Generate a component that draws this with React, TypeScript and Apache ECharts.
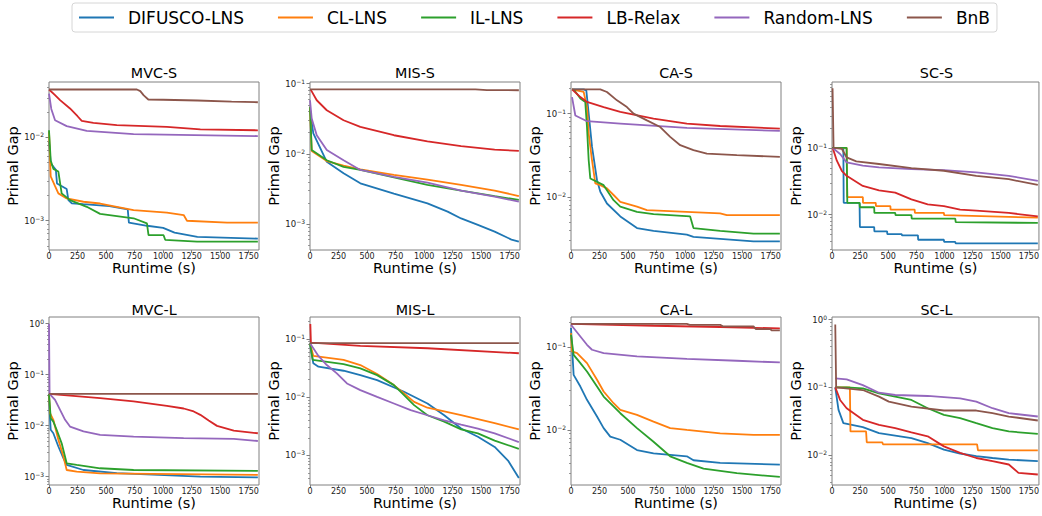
import React, { useEffect, useRef } from 'react';
import * as echarts from 'echarts';

type Pt = [number, number];

const METHODS = ['DIFUSCO-LNS', 'CL-LNS', 'IL-LNS', 'LB-Relax', 'Random-LNS', 'BnB'];
const COLORS = ['#1f77b4', '#ff7f0e', '#2ca02c', '#d62728', '#9467bd', '#8c564b'];
const TITLES = ['MVC-S', 'MIS-S', 'CA-S', 'SC-S', 'MVC-L', 'MIS-L', 'CA-L', 'SC-L'];
const X_TICKS = [0, 250, 500, 750, 1000, 1250, 1500, 1750];
const X_MAX = 1840;
const DECADES = [1e-4, 1e-3, 1e-2, 1e-1, 1];
const Y_RANGES: [number, number][] = [
  [4.45e-4, 0.0464], [4.26e-4, 0.1056], [0.00229, 0.24], [0.00295, 0.97],
  [6.86e-4, 1.35], [3.12e-4, 0.237], [0.00216, 0.231], [0.00364, 1.09],
];

// order in each panel: DIFUSCO-LNS, CL-LNS, IL-LNS, LB-Relax, Random-LNS, BnB
const MVC_S: Pt[][] = [
  [[0,0.0089],[15,0.0049],[60,0.0041],[70,0.0028],[155,0.0024],[170,0.00177],[200,0.00162],[300,0.00158],[530,0.0015],[690,0.00137],[700,0.00095],[860,0.00087],[1000,0.00082],[1100,0.00072],[1300,0.00064],[1830,0.00061]],
  [[0,0.0117],[15,0.0034],[53,0.0026],[82,0.00213],[155,0.00185],[302,0.00169],[448,0.00161],[594,0.00147],[741,0.00134],[1033,0.00125],[1180,0.00117],[1209,0.0010],[1560,0.00095],[1830,0.00095]],
  [[0,0.0122],[15,0.0053],[38,0.0042],[82,0.0039],[111,0.00213],[184,0.00177],[331,0.00147],[448,0.00121],[741,0.00107],[858,0.00093],[872,0.00067],[1004,0.00067],[1018,0.00059],[1297,0.00056],[1830,0.00056]],
  [[0,0.0377],[53,0.0322],[97,0.0281],[184,0.0223],[250,0.018],[287,0.0158],[389,0.0150],[594,0.0141],[1033,0.0134],[1326,0.0125],[1830,0.0122]],
  [[0,0.0337],[20,0.022],[53,0.0161],[155,0.0137],[331,0.0120],[741,0.0110],[1830,0.0104]],
  [[0,0.0377],[770,0.0377],[800,0.036],[830,0.032],[870,0.0286],[1000,0.0284],[1300,0.0278],[1600,0.027],[1830,0.0265]],
];
const MIS_S: Pt[][] = [
  [[0,0.0418],[29,0.0195],[147,0.0077],[294,0.0053],[441,0.0038],[735,0.0027],[1029,0.00197],[1206,0.0015],[1324,0.0012],[1471,0.00097],[1618,0.00078],[1765,0.0006],[1830,0.00056]],
  [[0,0.047],[15,0.011],[147,0.0079],[294,0.0068],[441,0.006],[735,0.005],[1029,0.0043],[1324,0.0036],[1618,0.003],[1830,0.0025]],
  [[0,0.047],[15,0.0113],[147,0.0081],[294,0.0065],[441,0.0059],[735,0.0046],[1029,0.0036],[1324,0.0030],[1618,0.0025],[1830,0.0022]],
  [[5,0.083],[59,0.058],[147,0.0418],[294,0.0301],[441,0.0242],[735,0.0184],[1029,0.0151],[1324,0.0129],[1618,0.0115],[1830,0.0110]],
  [[0,0.058],[15,0.0318],[59,0.0184],[147,0.0113],[294,0.0081],[441,0.0059],[735,0.0047],[1029,0.0039],[1324,0.0030],[1618,0.00245],[1830,0.00208]],
  [[0,0.083],[1450,0.083],[1550,0.081],[1830,0.0805]],
];
const CA_S: Pt[][] = [
  [[9,0.196],[111,0.196],[134,0.19],[155,0.1],[184,0.04],[228,0.0158],[257,0.0115],[315,0.0083],[432,0.0058],[578,0.0042],[723,0.0039],[1015,0.0035],[1073,0.0033],[1599,0.0029],[1830,0.0029]],
  [[9,0.196],[111,0.182],[140,0.12],[155,0.0575],[184,0.0275],[213,0.0145],[257,0.0138],[315,0.0126],[373,0.0105],[432,0.0087],[578,0.0076],[665,0.0069],[1307,0.0063],[1365,0.006],[1830,0.006]],
  [[23,0.196],[82,0.152],[125,0.138],[140,0.069],[155,0.0275],[169,0.0166],[286,0.0138],[373,0.0091],[432,0.0076],[578,0.0066],[723,0.0062],[1044,0.0058],[1073,0.0042],[1307,0.0039],[1599,0.0036],[1830,0.0036]],
  [[9,0.196],[82,0.158],[140,0.138],[286,0.12],[432,0.105],[723,0.087],[1015,0.076],[1307,0.071],[1830,0.066]],
  [[9,0.158],[38,0.095],[140,0.081],[432,0.076],[1015,0.0673],[1830,0.062]],
  [[9,0.196],[257,0.196],[315,0.182],[403,0.1445],[490,0.12],[548,0.1],[665,0.083],[782,0.069],[869,0.0525],[957,0.0417],[1073,0.0363],[1190,0.033],[1453,0.0316],[1830,0.0302]],
];
const SC_S: Pt[][] = [
  [[0,0.1],[101,0.1],[104,0.015],[245,0.015],[248,0.0065],[375,0.0065],[377,0.0056],[490,0.0056],[492,0.0051],[620,0.0051],[622,0.0049],[764,0.0049],[766,0.0042],[995,0.0042],[997,0.0039],[1096,0.0039],[1100,0.0037],[1830,0.0037]],
  [[0,0.1],[130,0.1],[136,0.0183],[274,0.0183],[276,0.015],[389,0.015],[391,0.0134],[519,0.0134],[521,0.0119],[735,0.0119],[737,0.0106],[995,0.0106],[997,0.0098],[1830,0.009]],
  [[0,0.1],[130,0.1],[136,0.015],[245,0.015],[248,0.0129],[375,0.0129],[377,0.0106],[562,0.0106],[565,0.0098],[706,0.0098],[709,0.0087],[1096,0.0087],[1100,0.0077],[1830,0.0075]],
  [[6,0.1],[43,0.0643],[87,0.0454],[130,0.0381],[274,0.0269],[418,0.0231],[562,0.0213],[706,0.0169],[851,0.0142],[995,0.0134],[1139,0.0119],[1283,0.0115],[1572,0.0106],[1830,0.0094]],
  [[6,0.1],[72,0.081],[130,0.0607],[274,0.054],[418,0.0509],[706,0.0481],[995,0.0464],[1283,0.0428],[1572,0.0381],[1830,0.032]],
  [[5,0.78],[14,0.1],[87,0.097],[130,0.0722],[216,0.0628],[418,0.0573],[706,0.0498],[995,0.0454],[1283,0.0381],[1572,0.0339],[1830,0.0278]],
];
const MVC_L: Pt[][] = [
  [[0,0.042],[3,0.0238],[15,0.0083],[38,0.0071],[82,0.0039],[126,0.0023],[155,0.0017],[302,0.00135],[594,0.00117],[1326,0.001],[1830,0.00097]],
  [[0,0.042],[9,0.0176],[38,0.013],[82,0.0053],[126,0.0025],[155,0.00135],[243,0.00126],[448,0.00116],[1830,0.00108]],
  [[0,0.042],[15,0.014],[38,0.012],[67,0.0083],[111,0.0045],[155,0.00183],[243,0.0017],[448,0.00146],[741,0.00135],[1830,0.0013]],
  [[0,0.042],[448,0.0347],[741,0.0298],[1033,0.0245],[1180,0.0217],[1268,0.019],[1326,0.0163],[1399,0.0126],[1472,0.0099],[1619,0.008],[1830,0.0071]],
  [[0,1.0],[5,0.042],[53,0.032],[97,0.0204],[141,0.013],[184,0.0096],[302,0.0077],[448,0.0066],[741,0.0061],[1180,0.0057],[1619,0.0055],[1830,0.005]],
  [[0,0.042],[1830,0.042]],
];
const MIS_L: Pt[][] = [
  [[0,0.084],[29,0.038],[74,0.0333],[294,0.0284],[441,0.0239],[588,0.0196],[824,0.0124],[1029,0.0078],[1176,0.0049],[1324,0.0029],[1471,0.0021],[1618,0.0014],[1735,0.00082],[1830,0.00041]],
  [[0,0.084],[29,0.0509],[294,0.0435],[441,0.0356],[588,0.0249],[735,0.0161],[824,0.0116],[912,0.0083],[1029,0.0066],[1324,0.0049],[1618,0.0036],[1830,0.0028]],
  [[0,0.084],[24,0.0435],[294,0.037],[441,0.0312],[588,0.0239],[735,0.0161],[824,0.0108],[912,0.0073],[1029,0.0049],[1176,0.0038],[1324,0.0028],[1471,0.0024],[1618,0.0018],[1830,0.0013]],
  [[3,0.18],[8,0.0865],[441,0.0757],[1029,0.069],[1830,0.0566]],
  [[0,0.084],[74,0.0509],[147,0.0356],[235,0.0256],[324,0.0172],[441,0.0132],[588,0.0101],[735,0.0078],[882,0.006],[1029,0.0049],[1176,0.004],[1324,0.0034],[1471,0.0029],[1618,0.0024],[1830,0.0017]],
  [[0,0.0842],[1830,0.0842]],
];
const CA_L: Pt[][] = [
  [[0,0.17],[23,0.0462],[82,0.0334],[140,0.0231],[228,0.0145],[286,0.0105],[344,0.0083],[432,0.0076],[578,0.0057],[723,0.0052],[1015,0.0048],[1073,0.0043],[1307,0.004],[1830,0.0038]],
  [[0,0.1476],[9,0.0887],[53,0.0846],[140,0.064],[228,0.0403],[286,0.0291],[373,0.021],[432,0.0175],[578,0.0152],[723,0.0126],[869,0.0105],[1015,0.01],[1307,0.0091],[1599,0.0087],[1830,0.0087]],
  [[0,0.141],[23,0.0807],[82,0.064],[140,0.0508],[228,0.0334],[286,0.0253],[432,0.0159],[578,0.0105],[723,0.0072],[869,0.0048],[1015,0.004],[1161,0.0034],[1453,0.003],[1830,0.0027]],
  [[0,0.191],[723,0.181],[1307,0.175],[1830,0.168]],
  [[0,0.186],[82,0.1345],[140,0.1066],[184,0.0929],[286,0.0846],[578,0.0771],[1015,0.0722],[1453,0.0684],[1830,0.0653]],
  [[0,0.191],[1015,0.191],[1040,0.186],[1307,0.186],[1330,0.178],[1599,0.178],[1620,0.165],[1744,0.165],[1760,0.159],[1830,0.159]],
];
const SC_L: Pt[][] = [
  [[29,0.1],[58,0.0466],[101,0.0297],[274,0.026],[418,0.0212],[706,0.0179],[851,0.0151],[995,0.0121],[1139,0.0106],[1283,0.0097],[1427,0.0091],[1572,0.0086],[1830,0.0082]],
  [[29,0.1],[159,0.1],[164,0.0224],[303,0.0224],[309,0.0155],[447,0.0155],[453,0.0145],[1290,0.0145],[1298,0.0118],[1830,0.0118]],
  [[29,0.1],[130,0.1],[274,0.0967],[418,0.0816],[562,0.073],[706,0.0653],[851,0.0493],[995,0.0394],[1139,0.0352],[1283,0.0297],[1427,0.0251],[1572,0.0224],[1830,0.0207]],
  [[29,0.1],[72,0.0653],[130,0.0493],[274,0.0333],[418,0.0281],[562,0.0251],[706,0.0217],[851,0.019],[995,0.0135],[1139,0.0108],[1283,0.0091],[1427,0.0082],[1572,0.0073],[1658,0.0055],[1830,0.0052]],
  [[29,0.1355],[130,0.131],[274,0.108],[418,0.0835],[562,0.0772],[851,0.0747],[1139,0.069],[1283,0.0617],[1427,0.0493],[1572,0.0417],[1830,0.0372]],
  [[29,0.845],[37,0.1],[274,0.0914],[418,0.073],[505,0.0616],[706,0.0521],[995,0.0456],[1283,0.0456],[1427,0.0417],[1572,0.0372],[1830,0.0325]],
];

const PANELS = [MVC_S, MIS_S, CA_S, SC_S, MVC_L, MIS_L, CA_L, SC_L];

// layout
const FONT = 'DejaVu Sans';
const FRAME = '#808080';
const COL_LEFT = [49, 310, 571, 832];
const COL_WIDTH = [210, 210, 210, 209];
const ROW_TOP = [82, 317];
const PLOT_H = 168;
const TITLE_Y = [73, 309.5];

const pow10Label = (v: number) => {
  const e = Math.round(Math.log10(v));
  return '{m|10}{s|' + String(e).replace('-', '\u2212') + '}';
};
const MINOR: number[] = [];
DECADES.forEach((d) => { for (let k = 2; k <= 9; k++) MINOR.push(d * k); });

function buildOption() {
  const grid: any[] = [];
  const xAxis: any[] = [];
  const yAxis: any[] = [];
  const title: any[] = [];
  const series: any[] = [];
  PANELS.forEach((panel, i) => {
    const col = i % 4;
    const row = Math.floor(i / 4);
    const left = COL_LEFT[col];
    const width = COL_WIDTH[col];
    grid.push({ left, top: ROW_TOP[row], width, height: PLOT_H, show: true, borderColor: FRAME, borderWidth: 1, containLabel: false });
    title.push({
      text: TITLES[i], left: left + width / 2, top: TITLE_Y[row], textAlign: 'center', textVerticalAlign: 'middle', padding: 0,
      textStyle: { fontFamily: FONT, fontSize: 14.3, fontWeight: 'normal', color: '#000' },
    });
    xAxis.push({
      type: 'value', gridIndex: i, min: 0, max: X_MAX,
      axisLine: { show: false },
      axisTick: { show: true, length: 3, customValues: X_TICKS, lineStyle: { color: FRAME } },
      axisLabel: { customValues: X_TICKS, formatter: (v: number) => String(v), fontFamily: FONT, fontSize: 8, color: '#222', margin: 2 },
      splitLine: { show: false },
      name: 'Runtime (s)', nameLocation: 'middle', nameGap: 10,
      nameTextStyle: { fontFamily: FONT, fontSize: 14.5, color: '#000' },
    });
    const [ymin, ymax] = Y_RANGES[i];
    yAxis.push({
      type: 'log', logBase: 10, gridIndex: i, min: ymin, max: ymax, position: 'left',
      axisLine: { show: false },
      axisTick: { show: true, length: 3.5, customValues: DECADES, lineStyle: { color: FRAME } },
      axisLabel: {
        customValues: DECADES, formatter: pow10Label, color: '#222', margin: 5,
        rich: {
          m: { fontFamily: FONT, fontSize: 8.5, color: '#222' },
          s: { fontFamily: FONT, fontSize: 6, color: '#222', padding: [0, 0, 5, 0] },
        },
      },
      splitLine: { show: false },
      name: 'Primal Gap', nameLocation: 'middle', nameGap: 28,
      nameTextStyle: { fontFamily: FONT, fontSize: 14.5, color: '#000' },
    });
    yAxis.push({
      type: 'log', logBase: 10, gridIndex: i, min: ymin, max: ymax, position: 'left',
      axisLine: { show: false },
      axisTick: { show: true, length: 2, customValues: MINOR, lineStyle: { color: FRAME, width: 0.8 } },
      axisLabel: { show: false },
      splitLine: { show: false },
    });
    panel.forEach((pts, k) => {
      series.push({
        type: 'line', name: METHODS[k], xAxisIndex: i, yAxisIndex: 2 * i, data: pts,
        symbol: 'none', showSymbol: false, silent: true,
        lineStyle: { width: 1.8, color: COLORS[k] }, itemStyle: { color: COLORS[k] },
        emphasis: { disabled: true },
      });
    });
  });
  return {
    animation: false,
    backgroundColor: '#fff',
    textStyle: { fontFamily: FONT },
    title,
    legend: {
      data: METHODS, left: 72, top: 3, padding: [6, 7, 6, 7], itemGap: 34, itemWidth: 35, itemHeight: 2,
      icon: 'rect',
      selectedMode: false, backgroundColor: '#fff', borderColor: '#d6d6d6', borderWidth: 1, borderRadius: 3,
      textStyle: { fontFamily: FONT, fontSize: 17, color: '#000', padding: [0, 0, 0, 9] },
    },
    grid, xAxis, yAxis, series,
  };
}

export default function App() {
  const ref = useRef<HTMLDivElement>(null);
  useEffect(() => {
    if (!ref.current) return;
    const chart = echarts.init(ref.current, undefined, { renderer: 'svg' });
    chart.setOption(buildOption() as any);
    return () => chart.dispose();
  }, []);
  return <div ref={ref} style={{ position: 'fixed', left: 0, top: 0, width: 1042, height: 516, background: '#fff' }} />;
}
